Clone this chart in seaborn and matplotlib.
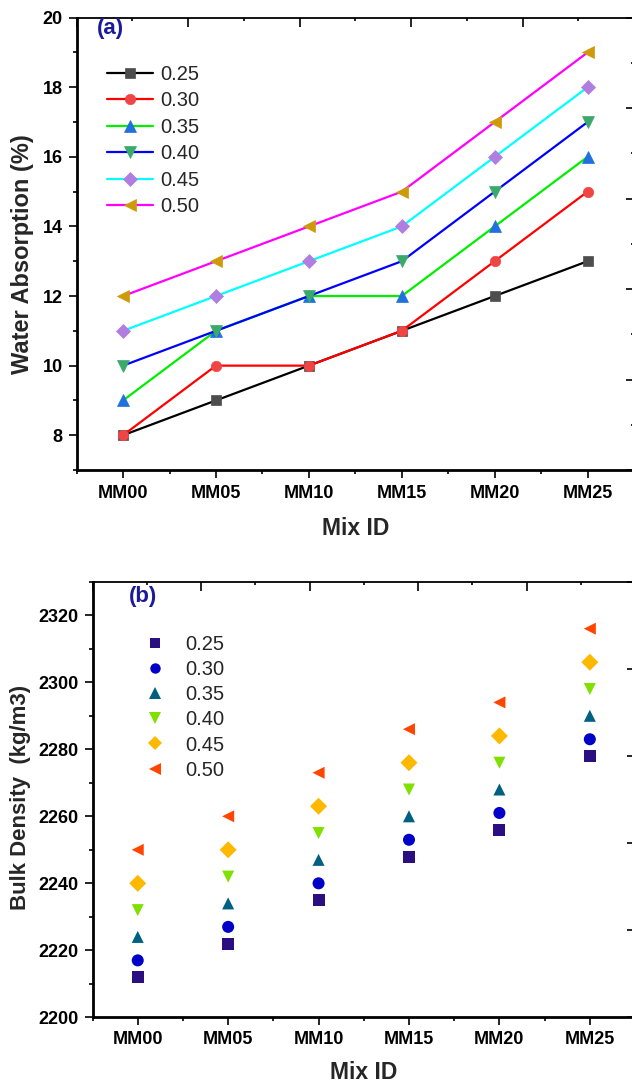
import numpy as np
import pandas as pd
import matplotlib
matplotlib.use("Agg")
import matplotlib.pyplot as plt
import seaborn as sns
from matplotlib.ticker import MultipleLocator
from matplotlib.lines import Line2D

# ---------------- data ----------------
mixes = ["MM00", "MM05", "MM10", "MM15", "MM20", "MM25"]
ratios = ["0.25", "0.30", "0.35", "0.40", "0.45", "0.50"]

# (a) Water absorption (%)
wa_025 = [8, 9, 10, 11, 12, 13]
wa_030 = [8, 10, 10, 11, 13, 15]
wa_035 = [9, 11, 12, 12, 14, 16]
wa_040 = [10, 11, 12, 13, 15, 17]
wa_045 = [11, 12, 13, 14, 16, 18]
wa_050 = [12, 13, 14, 15, 17, 19]

# (b) Bulk density (kg/m3)
bd_025 = [2212, 2222, 2235, 2248, 2256, 2278]
bd_030 = [2217, 2227, 2240, 2253, 2261, 2283]
bd_035 = [2224, 2234, 2247, 2260, 2268, 2290]
bd_040 = [2232, 2242, 2255, 2268, 2276, 2298]
bd_045 = [2240, 2250, 2263, 2276, 2284, 2306]
bd_050 = [2250, 2260, 2273, 2286, 2294, 2316]

wa_series = [wa_025, wa_030, wa_035, wa_040, wa_045, wa_050]
bd_series = [bd_025, bd_030, bd_035, bd_040, bd_045, bd_050]

# ---------------- styles ----------------
a_line_colors = ["#000000", "#ff0000", "#00ee00", "#0000ff", "#00ffff", "#ff00ff"]
a_marker_colors = ["#4d4d4d", "#f04545", "#2070dd", "#3aaa6a", "#b07ee0", "#cf9a0a"]
a_markers = ["s", "o", "^", "v", "D", "<"]

b_colors = ["#2b0f80", "#0000c8", "#006080", "#80e000", "#ffb800", "#ff4500"]
b_markers = ["s", "o", "^", "v", "D", "<"]

sns.set_style("ticks")
plt.rcParams["font.family"] = ["Liberation Sans", "DejaVu Sans"]
plt.rcParams["font.weight"] = "bold"
plt.rcParams["axes.labelweight"] = "bold"

fig = plt.figure(figsize=(6.32, 10.84), dpi=100)
ax_a = fig.add_axes([0.1212, 0.5664, 0.882, 0.4173])
ax_b = fig.add_axes([0.1464, 0.0615, 0.8584, 0.4018])

title_color = "#1a1a9a"

# ---------------- panel (a) ----------------
for r, vals, lc, mc, m in zip(ratios, wa_series, a_line_colors, a_marker_colors, a_markers):
    ms = 8.5 if m in ("^", "v", "<") else 7.5
    sns.lineplot(x=mixes, y=vals, ax=ax_a, sort=False, color=lc, linewidth=1.6,
                 marker=m, markersize=ms, markerfacecolor=mc, markeredgecolor=mc,
                 markeredgewidth=0.5, label=r)

handles, labels = ax_a.get_legend_handles_labels()
ax_a.legend(handles, labels, loc="upper left", bbox_to_anchor=(0.054, 0.8959),
            frameon=False, borderpad=0, borderaxespad=0, labelspacing=0.37,
            handlelength=2.3, handletextpad=0.36,
            prop={"family": "Liberation Sans", "weight": "normal", "size": 14.5})

ax_a.set_xlim(-0.5, 5.5)
ax_a.set_ylim(7, 20)
ax_a.yaxis.set_major_locator(MultipleLocator(2))
ax_a.yaxis.set_minor_locator(MultipleLocator(1))
ax_a.xaxis.set_minor_locator(MultipleLocator(0.5))
ax_a.set_xlabel("Mix ID", fontsize=16.5, fontweight="bold")
ax_a.set_ylabel("Water Absorption (%)", fontsize=17, fontweight="bold")
ax_a.xaxis.set_label_coords(0.5007, -0.1048)
ax_a.yaxis.set_label_coords(-0.0764, 0.4776)
ax_a.text(0.0599, 0.975, "(a)", transform=ax_a.transAxes, ha="center", va="center",
          fontsize=16, fontweight="bold", color=title_color)

# ---------------- panel (b) ----------------
df_b = pd.DataFrame({
    "mix": np.tile(mixes, len(ratios)),
    "ratio": np.repeat(ratios, len(mixes)),
    "bd": np.concatenate(bd_series),
})
pal_b = dict(zip(ratios, b_colors))
mk_b = dict(zip(ratios, b_markers))
sns.scatterplot(data=df_b, x="mix", y="bd", hue="ratio", style="ratio",
                hue_order=ratios, style_order=ratios, palette=pal_b, markers=mk_b,
                s=75, linewidth=0, legend=False, ax=ax_b)

b_handles = [Line2D([], [], linestyle="none", marker=mk_b[r], color=pal_b[r],
                    markersize=8.0 if mk_b[r] in ("^", "v", "<") else 7.5,
                    markeredgewidth=0) for r in ratios]
ax_b.legend(b_handles, ratios, loc="upper left", bbox_to_anchor=(0.0971, 0.8788),
            frameon=False, borderpad=0, borderaxespad=0, labelspacing=0.31,
            handlelength=1.0, handletextpad=0.97,
            prop={"family": "Liberation Sans", "weight": "normal", "size": 14.5})

ax_b.set_xlim(-0.5, 5.5)
ax_b.set_ylim(2200, 2330)
ax_b.yaxis.set_major_locator(MultipleLocator(20))
ax_b.yaxis.set_minor_locator(MultipleLocator(10))
ax_b.xaxis.set_minor_locator(MultipleLocator(0.5))
ax_b.set_xlabel("Mix ID", fontsize=16.5, fontweight="bold")
ax_b.set_ylabel("Bulk Density  (kg/m3)", fontsize=16, fontweight="bold")
ax_b.xaxis.set_label_coords(0.4999, -0.0996)
ax_b.yaxis.set_label_coords(-0.1134, 0.5057)
ax_b.text(0.0936, 0.9665, "(b)", transform=ax_b.transAxes, ha="center", va="center",
          fontsize=16, fontweight="bold", color=title_color)

# ---------------- common axis styling ----------------
for ax, xpad in ((ax_a, 4.5), (ax_b, 3.8)):
    ax.tick_params(axis="both", which="both", direction="out", top=False, right=False,
                   labelsize=13, width=1.2, color="black", labelcolor="black")
    ax.tick_params(axis="both", which="major", length=6)
    ax.tick_params(axis="both", which="minor", length=3)
    ax.tick_params(axis="x", which="major", pad=xpad)
    ax.tick_params(axis="y", which="major", pad=4)
    for side in ("left", "bottom"):
        ax.spines[side].set_linewidth(2.0)
        ax.spines[side].set_color("black")
    for side in ("top", "right"):
        ax.spines[side].set_linewidth(1.3)
        ax.spines[side].set_color("black")

    # mirrored right ticks (independent scale, labels outside the canvas)
    ax_r = ax.twinx()
    ax_r.set_ylim(0, 5)
    ax_r.yaxis.set_major_locator(MultipleLocator(1))
    ax_r.yaxis.set_minor_locator(MultipleLocator(0.5))
    ax_r.tick_params(axis="y", which="both", direction="in", right=True, left=False,
                     labelright=False, width=1.2, color="black")
    ax_r.tick_params(axis="y", which="major", length=5.5)
    ax_r.tick_params(axis="y", which="minor", length=2.5)
    for s in ax_r.spines.values():
        s.set_visible(False)

    # mirrored top ticks (independent scale)
    ax_t = ax.twiny()
    ax_t.set_xlim(0, 5)
    ax_t.xaxis.set_major_locator(MultipleLocator(1))
    ax_t.xaxis.set_minor_locator(MultipleLocator(0.5))
    ax_t.tick_params(axis="x", which="both", direction="in", top=True, bottom=False,
                     labeltop=False, width=1.2, color="black")
    ax_t.tick_params(axis="x", which="major", length=6.5)
    ax_t.tick_params(axis="x", which="minor", length=2.5)
    for s in ax_t.spines.values():
        s.set_visible(False)

fig.savefig("out.png", dpi=100)
